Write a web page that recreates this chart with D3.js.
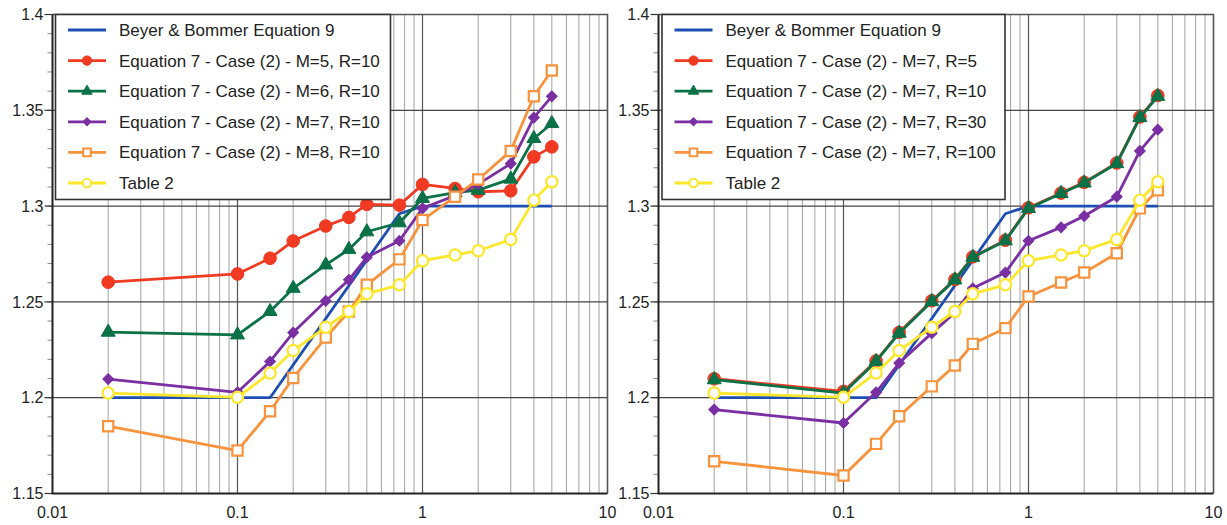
<!DOCTYPE html>
<html>
<head>
<meta charset="utf-8">
<script src="https://cdn.jsdelivr.net/npm/d3@7"></script>
<style>
  html, body { margin: 0; padding: 0; background: #fff; }
  svg { display: block; font-family: "Liberation Sans", Arial, sans-serif; }
</style>
</head>
<body>
<div id="chart"></div>
<script>
// periods (s) shared by all the "Equation 7" curves and Table 2
var periods = [0.02, 0.1, 0.15, 0.2, 0.3, 0.4, 0.5, 0.75, 1, 1.5, 2, 3, 4, 5];

// Beyer & Bommer equation 9 (piecewise)
var bbPeriods = [0.02, 0.15, 0.75, 1, 5];
var bbRatio = [1.2, 1.2, 1.296, 1.3, 1.3];

var table2 = [1.2024, 1.2002, 1.2129, 1.2246, 1.2368, 1.245, 1.2542, 1.2589, 1.2715, 1.2745, 1.2767, 1.2826, 1.3031, 1.3127];

// left panel: R=10, varying M
var m5r10 = [1.2603, 1.2646, 1.2728, 1.2818, 1.2896, 1.2941, 1.3009, 1.3005, 1.3113, 1.3092, 1.3075, 1.308, 1.3257, 1.3309];
var m6r10 = [1.2342, 1.2328, 1.245, 1.2571, 1.2693, 1.2774, 1.2866, 1.2913, 1.304, 1.307, 1.3083, 1.3141, 1.3353, 1.3431];
var m7r10 = [1.2097, 1.2028, 1.2189, 1.234, 1.2505, 1.2615, 1.2733, 1.2819, 1.2988, 1.3055, 1.3115, 1.3222, 1.3462, 1.3573];
var m8r10 = [1.1851, 1.1724, 1.1929, 1.2103, 1.2314, 1.245, 1.2589, 1.2722, 1.2927, 1.3049, 1.3139, 1.3288, 1.3573, 1.3708];

// right panel: M=7, varying R
var m7r5 = [1.2099, 1.2033, 1.2192, 1.2341, 1.2506, 1.2617, 1.2735, 1.2822, 1.2991, 1.3068, 1.3124, 1.3225, 1.3465, 1.3577];
var m7r10b = [1.2094, 1.2024, 1.2189, 1.2337, 1.2502, 1.2615, 1.2733, 1.2819, 1.2988, 1.3066, 1.3121, 1.3222, 1.3462, 1.3573];
var m7r30 = [1.1938, 1.1868, 1.2028, 1.2181, 1.2337, 1.2444, 1.2571, 1.2653, 1.2819, 1.2889, 1.2948, 1.3049, 1.3288, 1.3399];
var m7r100 = [1.1668, 1.1594, 1.1759, 1.1903, 1.2059, 1.2168, 1.2281, 1.2363, 1.2528, 1.2601, 1.2653, 1.2754, 1.2988, 1.3083];

var leftLabels = ["Beyer & Bommer Equation 9", "Equation 7 - Case (2) - M=5, R=10", "Equation 7 - Case (2) - M=6, R=10",
  "Equation 7 - Case (2) - M=7, R=10", "Equation 7 - Case (2) - M=8, R=10", "Table 2"];
var rightLabels = ["Beyer & Bommer Equation 9", "Equation 7 - Case (2) - M=7, R=5", "Equation 7 - Case (2) - M=7, R=10",
  "Equation 7 - Case (2) - M=7, R=30", "Equation 7 - Case (2) - M=7, R=100", "Table 2"];

var xTicks = [0.01, 0.1, 1, 10];
var yTicks = [1.15, 1.2, 1.25, 1.3, 1.35, 1.4];

// marker styles, one per series slot
var styles = [
  {color: "#1d4fb3", symbol: null},
  {color: "#f03a22", symbol: d3.symbolCircle, size: 125, fill: "#f03a22"},
  {color: "#0b7147", symbol: d3.symbolTriangle, size: 85, fill: "#0b7147"},
  {color: "#7a2fa3", symbol: d3.symbolSquare, size: 58, fill: "#7a2fa3", rotate: 45},
  {color: "#f7933c", symbol: d3.symbolSquare, size: 105, fill: "#fff"},
  {color: "#fde72a", symbol: d3.symbolCircle, size: 100, fill: "#fff"}
];

var W = 1227, H = 525;
var svg = d3.select("#chart").append("svg").attr("width", W).attr("height", H);

function drawPanel(x0, x1, legendBox, series, labels) {
  var x = d3.scaleLog().domain([0.01, 10]).range([x0, x1]);
  var y = d3.scaleLinear().domain([1.15, 1.4]).range([493.5, 14.5]);
  var g = svg.append("g");

  // minor vertical grid
  var minor = [];
  [0.01, 0.1, 1].forEach(function(d) {
    for (var k = 2; k <= 9; k++) minor.push(k * d);
  });
  g.selectAll(".vminor").data(minor).enter().append("line")
    .attr("x1", function(d) { return x(d); }).attr("x2", function(d) { return x(d); })
    .attr("y1", y(1.4)).attr("y2", y(1.15))
    .style("stroke", "#aaa").style("stroke-width", 1.1);
  g.selectAll(".vmajor").data([0.1, 1]).enter().append("line")
    .attr("x1", function(d) { return x(d); }).attr("x2", function(d) { return x(d); })
    .attr("y1", y(1.4)).attr("y2", y(1.15))
    .style("stroke", "#555").style("stroke-width", 1.2);
  g.selectAll(".hmajor").data([1.2, 1.25, 1.3, 1.35]).enter().append("line")
    .attr("x1", x(0.01)).attr("x2", x(10))
    .attr("y1", function(d) { return y(d); }).attr("y2", function(d) { return y(d); })
    .style("stroke", "#444").style("stroke-width", 1.2);

  // frame (top / right)
  g.append("path")
    .attr("d", "M" + x(0.01) + "," + y(1.4) + "H" + x(10) + "V" + y(1.15))
    .style("fill", "none").style("stroke", "#555").style("stroke-width", 1.6);

  var line = d3.line().x(function(d) { return x(d[0]); }).y(function(d) { return y(d[1]); });

  series.forEach(function(s, i) {
    var st = styles[i];
    var pts = s.t.map(function(t, j) { return [t, s.v[j]]; });
    g.append("path").datum(pts).attr("d", line)
      .style("fill", "none").style("stroke", st.color).style("stroke-width", 2.8)
      .style("stroke-linejoin", "round");
    if (st.symbol) {
      g.selectAll(".m" + i).data(pts).enter().append("path")
        .attr("d", d3.symbol().type(st.symbol).size(st.size))
        .attr("transform", function(d) {
          return "translate(" + x(d[0]) + "," + y(d[1]) + ")" + (st.rotate ? " rotate(" + st.rotate + ")" : "");
        })
        .style("fill", st.fill).style("stroke", st.color).style("stroke-width", st.fill === "#fff" ? 2.2 : 1);
    }
  });

  // legend
  g.append("rect")
    .attr("x", legendBox[0]).attr("y", 14.5)
    .attr("width", legendBox[1] - legendBox[0]).attr("height", 185)
    .style("fill", "#fff").style("stroke", "#333").style("stroke-width", 1.6);
  var lx = legendBox[0] + 12.5;
  labels.forEach(function(lab, i) {
    var st = styles[i];
    var ly = 30 + i * 30.6;
    g.append("line").attr("x1", lx).attr("x2", lx + 38).attr("y1", ly).attr("y2", ly)
      .style("stroke", st.color).style("stroke-width", 2.8);
    if (st.symbol) {
      g.append("path")
        .attr("d", d3.symbol().type(st.symbol).size(st.size * 0.55))
        .attr("transform", "translate(" + (lx + 19) + "," + ly + ")" + (st.rotate ? " rotate(" + st.rotate + ")" : ""))
        .style("fill", st.fill).style("stroke", st.color).style("stroke-width", st.fill === "#fff" ? 2 : 1);
    }
    g.append("text").attr("x", lx + 51).attr("y", ly + 6)
      .style("font-size", "17px").style("fill", "#222").text(lab);
  });

  // y axis ticks & labels
  var yMinor = d3.range(115, 141).map(function(d) { return d / 100; });
  g.selectAll(".ymt").data(yMinor).enter().append("line")
    .attr("x1", x(0.01) - 5).attr("x2", x(0.01))
    .attr("y1", function(d) { return y(d); }).attr("y2", function(d) { return y(d); })
    .style("stroke", "#888").style("stroke-width", 1);
  g.selectAll(".yt").data(yTicks).enter().append("line")
    .attr("x1", x(0.01) - 8).attr("x2", x(0.01))
    .attr("y1", function(d) { return y(d); }).attr("y2", function(d) { return y(d); })
    .style("stroke", "#333").style("stroke-width", 1.2);
  g.selectAll(".yl").data(yTicks).enter().append("text")
    .attr("x", x(0.01) - 9).attr("y", function(d) { return y(d); }).attr("dy", "0.36em")
    .attr("text-anchor", "end").style("font-size", "16px").style("fill", "#222")
    .text(function(d) { return d3.format("")(d); });

  // x axis labels
  g.selectAll(".xl").data(xTicks).enter().append("text")
    .attr("x", function(d) { return x(d); }).attr("y", 518)
    .attr("text-anchor", "middle").style("font-size", "16px").style("fill", "#222")
    .text(function(d) { return d3.format("")(d); });

  // axis lines (left / bottom)
  g.append("path")
    .attr("d", "M" + x(0.01) + "," + y(1.4) + "V" + y(1.15) + "H" + x(10))
    .style("fill", "none").style("stroke", "#222").style("stroke-width", 2);
}

drawPanel(52.5, 607.5, [55.5, 390.5], [
  {t: bbPeriods, v: bbRatio},
  {t: periods, v: m5r10},
  {t: periods, v: m6r10},
  {t: periods, v: m7r10},
  {t: periods, v: m8r10},
  {t: periods, v: table2}
], leftLabels);

drawPanel(658.5, 1213.5, [662, 1005], [
  {t: bbPeriods, v: bbRatio},
  {t: periods, v: m7r5},
  {t: periods, v: m7r10b},
  {t: periods, v: m7r30},
  {t: periods, v: m7r100},
  {t: periods, v: table2}
], rightLabels);
</script>
</body>
</html>
